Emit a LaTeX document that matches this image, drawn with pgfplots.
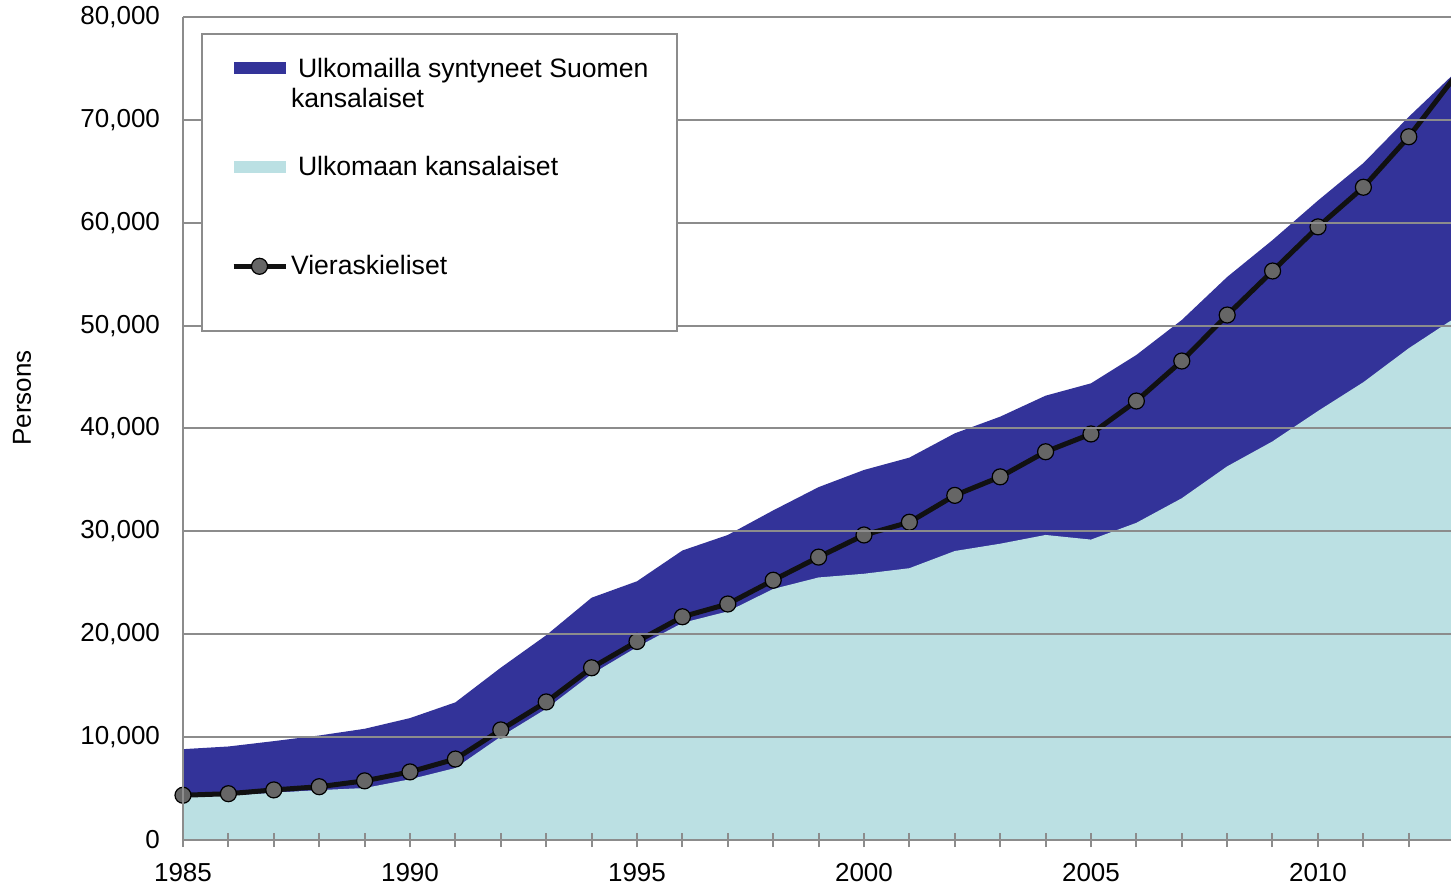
\documentclass[border=0pt]{standalone}
\usepackage{pgfplots}
\pgfplotsset{compat=1.18}
\usepackage{pgfplotstable}
\usepackage{fontspec}
\setmainfont{Liberation Sans}
\definecolor{darkband}{RGB}{51,51,153}
\definecolor{lightband}{RGB}{187,224,227}
\definecolor{gridgray}{RGB}{140,140,140}
\definecolor{markgray}{RGB}{102,102,102}
\definecolor{linecol}{RGB}{17,17,17}

\pgfplotstableread{
year total foreign lang
1985 8830 4150 4350
1986 9090 4300 4500
1987 9610 4600 4870
1988 10160 4850 5180
1989 10810 5050 5750
1990 11850 5900 6620
1991 13380 7000 7870
1992 16750 10050 10700
1993 19900 12750 13420
1994 23550 16120 16740
1995 25150 18750 19300
1996 28140 21100 21700
1997 29650 22220 22940
1998 32040 24400 25250
1999 34300 25520 27500
2000 35970 25880 29650
2001 37170 26420 30890
2002 39530 28090 33500
2003 41150 28800 35300
2004 43190 29650 37740
2005 44390 29200 39470
2006 47150 30830 42670
2007 50550 33220 46560
2008 54730 36320 51030
2009 58320 38750 55310
2010 62160 41700 59600
2011 65800 44500 63450
2012 70300 47800 68360
2013 74500 50700 74100
}\data

\begin{document}
\fontsize{13}{15}\selectfont
\begin{tikzpicture}
\begin{axis}[
  scale only axis, width=634pt, height=411.5pt,
  xmin=1985, xmax=2012.93, ymin=0, ymax=80000,
  set layers=axis on top,
  axis lines*=left,
  axis line style={gridgray, line width=1pt},
  xtick={1985,1990,...,2010}, minor xtick={1986,...,2012},
  tick align=center, major tick length=7pt, minor tick length=7pt,
  xtick style={gridgray, line width=1pt},
  ytick={0,10000,...,80000}, ytick style={draw=none},
  ymajorgrids,
  grid style={gridgray, line width=1pt, /pgfplots/on layer=axis background},
  scaled y ticks=false,
  /pgf/number format/assume math mode=true,
  x tick label style={/pgf/number format/1000 sep={}, yshift=-3.5pt},
  y tick label style={/pgf/number format/1000 sep={,}, xshift=-3.5pt},
  ylabel={Persons},
  ylabel style={at={(rel axis cs:-0.127,0.537)}, anchor=center},
  legend style={at={(0.0142,0.9805)}, anchor=north west, draw=gridgray, line width=1pt,
    fill=white, inner xsep=14.5pt, inner ysep=11pt, row sep=22pt, column sep=1.5pt,
    font=\fontsize{13.3}{15}\selectfont,
    nodes={inner sep=0pt}, cells={align=left}},
  legend cell align=left,
]
\addplot[fill=darkband, draw=none,
  legend image code/.code={\fill[darkband] (0pt,4.5pt) rectangle (26pt,10.5pt);}]
  table[x=year,y=total]{\data} \closedcycle;
\addlegendentry{\strut\hspace*{3.5pt}Ulkomailla syntyneet Suomen\\\strut kansalaiset}
\addplot[fill=lightband, draw=none,
  legend image code/.code={\fill[lightband] (0pt,4.5pt) rectangle (26pt,10.5pt);}]
  table[x=year,y=foreign]{\data} \closedcycle;
\addlegendentry{\strut\hspace*{3.5pt}Ulkomaan kansalaiset\\\strut}
\addplot[linecol, line width=2.5pt, mark=*, mark size=4pt,
  mark options={fill=markgray, draw=black, line width=0.6pt},
  legend image code/.code={\draw[linecol, line width=2.5pt, mark=*, mark size=4pt,
    mark options={fill=markgray, draw=black, line width=0.6pt},
    mark repeat=2, mark phase=2] plot coordinates {(0pt,7.5pt) (13pt,7.5pt) (26pt,7.5pt)};}]
  table[x=year,y=lang]{\data};
\addlegendentry{\strut Vieraskieliset\\\strut}
\end{axis}
\pgfresetboundingbox
\path ([xshift=-91.5pt,yshift=-24.5pt]current axis.south west) rectangle ([yshift=8.5pt]current axis.north east);
\end{tikzpicture}
\end{document}
